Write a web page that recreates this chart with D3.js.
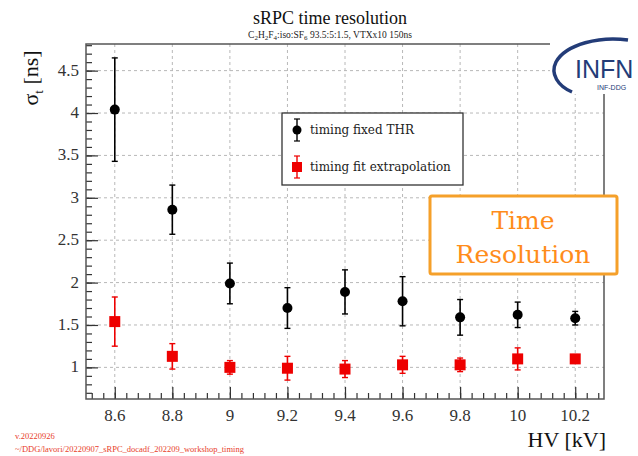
<!DOCTYPE html>
<html><head><meta charset="utf-8">
<script src="https://cdn.jsdelivr.net/npm/d3@7"></script>
<style>body{margin:0;background:#fff}svg{display:block}</style>
</head><body>
<script>
const hv = [8.6, 8.8, 9.0, 9.2, 9.4, 9.6, 9.8, 10.0, 10.2];
const fixedThr = [4.04, 2.86, 1.99, 1.70, 1.89, 1.78, 1.59, 1.62, 1.58];
const fixedThrErr = [0.61, 0.29, 0.24, 0.24, 0.26, 0.29, 0.21, 0.15, 0.08];
const fitExtrap = [1.54, 1.13, 1.00, 0.99, 0.98, 1.03, 1.03, 1.10, 1.10];
const fitExtrapErr = [0.29, 0.15, 0.08, 0.14, 0.10, 0.10, 0.08, 0.13, 0.05];
const xTicks = [8.6, 8.8, 9.0, 9.2, 9.4, 9.6, 9.8, 10.0, 10.2];
const yTicks = [1, 1.5, 2, 2.5, 3, 3.5, 4, 4.5];
const legendLabels = ["timing fixed THR", "timing fit extrapolation"];

const W = 638, H = 456;
const svg = d3.select("body").append("svg").attr("width", W).attr("height", H);
const x = d3.scaleLinear().domain([8.5, 10.3]).range([86, 604]);
const y = d3.scaleLinear().domain([0.627, 4.814]).range([399, 44]);
const serif = "'Liberation Serif', 'Times New Roman', serif";
const serif2 = "'DejaVu Serif', serif";

// grid
const g = svg.append("g");
g.selectAll(".gx").data(xTicks).join("line")
  .attr("x1", d => x(d)).attr("x2", d => x(d)).attr("y1", 44).attr("y2", 399)
  .attr("stroke", "#b8b8b8").attr("stroke-width", 1).attr("stroke-dasharray", "3,3");
g.selectAll(".gy").data(yTicks).join("line")
  .attr("x1", 86).attr("x2", 604).attr("y1", d => y(d)).attr("y2", d => y(d))
  .attr("stroke", "#b8b8b8").attr("stroke-width", 1).attr("stroke-dasharray", "3,3");

// axes (ticks inside)
const xMinor = d3.range(8.52, 10.3, 0.04);
const yMinor = d3.range(0.7, 4.81, 0.1);
const xAxisMinor = d3.axisTop(x).tickValues(xMinor).tickSize(6).tickFormat("");
const xAxis = d3.axisTop(x).tickValues(xTicks).tickSize(12).tickFormat("");
svg.append("g").attr("transform", "translate(0,399)").call(xAxisMinor).call(s => s.select(".domain").remove());
svg.append("g").attr("transform", "translate(0,399)").call(xAxis).call(s => s.select(".domain").remove());
const yAxisMinor = d3.axisRight(y).tickValues(yMinor).tickSize(6).tickFormat("");
const yAxis = d3.axisRight(y).tickValues(yTicks).tickSize(12).tickFormat("");
svg.append("g").attr("transform", "translate(86,0)").call(yAxisMinor).call(s => s.select(".domain").remove());
svg.append("g").attr("transform", "translate(86,0)").call(yAxis).call(s => s.select(".domain").remove());
svg.selectAll(".tick line").attr("stroke", "#333").attr("stroke-width", 1.2);

// tick labels
svg.append("g").selectAll("text").data(xTicks).join("text")
  .attr("x", d => x(d)).attr("y", 421).attr("text-anchor", "middle")
  .attr("font-family", serif).attr("font-size", 17).attr("fill", "#333")
  .text(d => String(+d.toFixed(1)));
svg.append("g").selectAll("text").data(yTicks).join("text")
  .attr("x", 79).attr("y", d => y(d) + 5).attr("text-anchor", "end")
  .attr("font-family", serif).attr("font-size", 17).attr("fill", "#333")
  .text(d => d);

// frame
svg.append("rect").attr("x", 86).attr("y", 44).attr("width", 518).attr("height", 355)
  .attr("fill", "none").attr("stroke", "#555").attr("stroke-width", 1.5);

// data series
function series(vals, errs, color, shape) {
  const sg = svg.append("g");
  sg.selectAll("line.e").data(hv).join("line")
    .attr("x1", d => x(d)).attr("x2", d => x(d))
    .attr("y1", (d, i) => y(vals[i] + errs[i])).attr("y2", (d, i) => y(vals[i] - errs[i]))
    .attr("stroke", color).attr("stroke-width", 1.6);
  [1, -1].forEach(sgn => {
    sg.selectAll("line.c" + sgn).data(hv).join("line")
      .attr("x1", d => x(d) - 3).attr("x2", d => x(d) + 3)
      .attr("y1", (d, i) => y(vals[i] + sgn * errs[i])).attr("y2", (d, i) => y(vals[i] + sgn * errs[i]))
      .attr("stroke", color).attr("stroke-width", 1.4);
  });
  if (shape === "circle") {
    sg.selectAll("circle").data(hv).join("circle")
      .attr("cx", d => x(d)).attr("cy", (d, i) => y(vals[i])).attr("r", 5).attr("fill", color);
  } else {
    sg.selectAll("rect").data(hv).join("rect")
      .attr("x", d => x(d) - 5.5).attr("y", (d, i) => y(vals[i]) - 5.5)
      .attr("width", 11).attr("height", 11).attr("fill", color);
  }
}
series(fixedThr, fixedThrErr, "#000", "circle");
series(fitExtrap, fitExtrapErr, "#ee0000", "square");

// legend
const lg = svg.append("g");
lg.append("rect").attr("x", 282).attr("y", 113).attr("width", 181).attr("height", 72)
  .attr("fill", "#fff").attr("stroke", "#333").attr("stroke-width", 1.3);
const legY = [130, 167];
legendLabels.forEach((lab, i) => {
  const c = i === 0 ? "#000" : "#ee0000";
  const cx = 297, cy = legY[i];
  lg.append("line").attr("x1", cx).attr("x2", cx).attr("y1", cy - 11).attr("y2", cy + 11).attr("stroke", c).attr("stroke-width", 1.4);
  lg.append("line").attr("x1", cx - 3).attr("x2", cx + 3).attr("y1", cy - 11).attr("y2", cy - 11).attr("stroke", c).attr("stroke-width", 1.2);
  lg.append("line").attr("x1", cx - 3).attr("x2", cx + 3).attr("y1", cy + 11).attr("y2", cy + 11).attr("stroke", c).attr("stroke-width", 1.2);
  if (i === 0) lg.append("circle").attr("cx", cx).attr("cy", cy).attr("r", 4.5).attr("fill", c);
  else lg.append("rect").attr("x", cx - 5).attr("y", cy - 5).attr("width", 10).attr("height", 10).attr("fill", c);
  lg.append("text").attr("x", 310).attr("y", cy + 4).attr("font-family", serif2).attr("font-size", 12)
    .attr("fill", "#222").text(lab);
});

// title
svg.append("text").attr("x", 330).attr("y", 24).attr("text-anchor", "middle")
  .attr("font-family", serif).attr("font-size", 18).attr("fill", "#111").text("sRPC time resolution");
const sub = svg.append("text").attr("x", 330).attr("y", 38).attr("text-anchor", "middle")
  .attr("font-family", serif).attr("font-size", 9.5).attr("fill", "#222");
[["C", 0], ["2", 1], ["H", 0], ["2", 1], ["F", 0], ["4", 1], [":iso:SF", 0], ["6", 1], [" 93.5:5:1.5, VTXx10 150ns", 0]]
  .forEach(([t, s]) => {
    const ts = sub.append("tspan").text(t);
    if (s) ts.attr("font-size", 7).attr("baseline-shift", "-2");
  });

// axis titles
svg.append("text").attr("transform", "translate(38,78) rotate(-90)").attr("text-anchor", "middle")
  .attr("font-family", serif).attr("font-size", 22).attr("fill", "#111")
  .call(t => { t.append("tspan").text("σ"); t.append("tspan").attr("font-size", 13).attr("dy", 5).text("t"); t.append("tspan").attr("dy", -5).text(" [ns]"); });
svg.append("text").attr("x", 606).attr("y", 447).attr("text-anchor", "end")
  .attr("font-family", serif).attr("font-size", 22).attr("fill", "#111").text("HV [kV]");

// footer
svg.append("text").attr("x", 15).attr("y", 439).attr("font-family", serif).attr("font-size", 8.5)
  .attr("fill", "#e8402a").text("v.20220926");
svg.append("text").attr("x", 15).attr("y", 452).attr("font-family", serif).attr("font-size", 8.5)
  .attr("fill", "#e8402a").text("~/DDG/lavori/20220907_sRPC_docadf_202209_workshop_timing");

// annotation box
svg.append("rect").attr("x", 430).attr("y", 196).attr("width", 187).attr("height", 78)
  .attr("fill", "#fff").attr("stroke", "#f5a02a").attr("stroke-width", 3).attr("rx", 2);
svg.append("text").attr("x", 523).attr("y", 229).attr("text-anchor", "middle")
  .attr("font-family", serif2).attr("font-size", 25).attr("fill", "#ff8c1a").text("Time");
svg.append("text").attr("x", 523).attr("y", 263).attr("text-anchor", "middle")
  .attr("font-family", serif2).attr("font-size", 25).attr("fill", "#ff8c1a").text("Resolution");

// INFN logo
const logo = svg.append("g");
logo.append("rect").attr("x", 550).attr("y", 42).attr("width", 88).attr("height", 52).attr("fill", "#fff");
logo.append("path").attr("d", "M628,40 C600,36 566,44 556,62 C550,74 558,86 572,92")
  .attr("fill", "none").attr("stroke", "#233c78").attr("stroke-width", 3.5);
logo.append("text").attr("x", 575).attr("y", 78).attr("font-family", "'Liberation Sans', Arial, sans-serif")
  .attr("font-size", 25).attr("fill", "#233c78").text("INFN");
logo.append("text").attr("x", 597).attr("y", 90).attr("font-family", "'Liberation Sans', Arial, sans-serif")
  .attr("font-size", 7).attr("fill", "#233c78").text("INF-DDG");
</script>
</body></html>
